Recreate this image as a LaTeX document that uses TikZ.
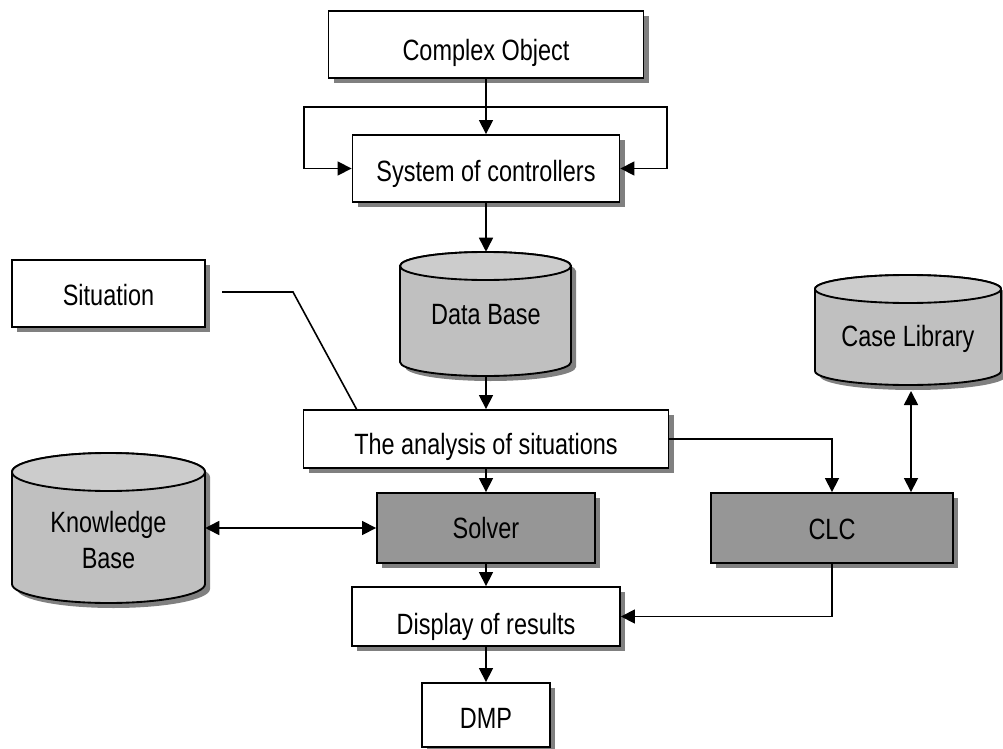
\documentclass[tikz,border=0pt]{standalone}
\usepackage{fontspec}
\setmainfont{Liberation Sans}[FakeStretch=0.8]
\usetikzlibrary{arrows.meta,shadows}
\definecolor{shadowc}{HTML}{808080}
\definecolor{darkbox}{HTML}{969696}
\definecolor{cylbody}{HTML}{C0C0C0}
\definecolor{cyltop}{HTML}{CCCCCC}
% cylinder: left, top, right, bottom, ry (all in px)
\newcommand\mycyl[5]{%
  \pgfmathsetmacro\cylcx{(#1+#3)/2}%
  \pgfmathsetmacro\cylrx{(#3-#1)/2*0.75}%
  \pgfmathsetmacro\cylry{#5*0.75}%
  \fill[shadowc] (#1+5,#2+#5+5) -- (#1+5,#4-#5+5)
    arc[start angle=180,end angle=360,x radius=\cylrx pt,y radius=\cylry pt]
    -- (#3+5,#2+#5+5)
    arc[start angle=0,end angle=180,x radius=\cylrx pt,y radius=\cylry pt] -- cycle;
  \draw[cylline,fill=cylbody] (#1,#2+#5) -- (#1,#4-#5)
    arc[start angle=180,end angle=360,x radius=\cylrx pt,y radius=\cylry pt]
    -- (#3,#2+#5)
    arc[start angle=0,end angle=180,x radius=\cylrx pt,y radius=\cylry pt] -- cycle;
  \draw[cylline,fill=cyltop] (\cylcx,#2+#5) ellipse[x radius=\cylrx pt,y radius=\cylry pt];
}
\begin{document}
\begin{tikzpicture}[x=0.75pt,y=-0.75pt,
  >={Triangle[length=10.5pt,width=10.5pt]},
  lbl/.style={font=\fontsize{22pt}{27pt}\selectfont},
  cylline/.style={line width=1.4pt},
  box/.style={lbl,draw,line width=1.4pt,fill=white,inner sep=0pt,text depth=0pt,
    drop shadow={shadow xshift=3.75pt,shadow yshift=-3.75pt,fill=shadowc,opacity=1}},
  dark/.style={box,fill=darkbox},
  area/.style={inner sep=0pt,draw=none},
  conn/.style={line width=1.2pt}
]
\useasboundingbox (0,0) rectangle (1003,749);

% cylinders
\mycyl{400}{252}{571}{376}{14}
\mycyl{815}{275}{1001}{385}{14}
\mycyl{12}{453}{205}{603}{19}
\node[area,minimum width=171*0.75pt,minimum height=124*0.75pt] (db) at (486,314) {};
\node[area,minimum width=186*0.75pt,minimum height=110*0.75pt] (cl) at (908,330) {};
\node[area,minimum width=193*0.75pt,minimum height=150*0.75pt] (kb) at (108.5,528) {};
\node[lbl,inner sep=0pt,text height=15.1pt,text depth=0pt] (dbt) at (486,314.5) {Data Base};
\node[lbl,inner sep=0pt,text height=15.1pt,text depth=0pt] (clt) at (908,336) {Case Library};
\node[lbl,inner sep=0pt,align=center] (kbt) at (108.5,540) {Knowledge\\Base};

% boxes
\node[box,minimum width=315*0.75pt,minimum height=67*0.75pt,text height=23.4pt] (co) at (486,44.5) {Complex Object};
\node[box,minimum width=267*0.75pt,minimum height=67*0.75pt,text height=18.9pt] (sys) at (486,168.5) {System of controllers};
\node[box,minimum width=193*0.75pt,minimum height=67*0.75pt,text height=17.4pt] (sit) at (108.5,293.5) {Situation};
\node[box,minimum width=365*0.75pt,minimum height=58*0.75pt,text height=22.6pt] (ana) at (486,439) {The analysis of situations};
\node[dark,minimum width=218*0.75pt,minimum height=70*0.75pt,text height=15.9pt] (solver) at (486,528) {Solver};
\node[dark,minimum width=242*0.75pt,minimum height=70*0.75pt,text height=16.6pt] (clc) at (832,528) {CLC};
\node[box,minimum width=268*0.75pt,minimum height=59*0.75pt,text height=26.4pt] (disp) at (486,616.5) {Display of results};
\node[box,minimum width=128*0.75pt,minimum height=64*0.75pt,text height=20.4pt] (dmp) at (486,715) {DMP};

% helper coordinates
\coordinate (lpL) at (304,107);
\coordinate (lpR) at (667,107);
\coordinate (s1) at (222,292);
\coordinate (s2) at (293,292);
\coordinate (s3) at (357,410);
\coordinate (c1) at (911,391);

% connectors
\draw[conn,->] (co.south) -- (sys.north);
\draw[conn,<->] (sys.west) -| (lpL) -- (lpR) |- (sys.east);
\draw[conn,->] (sys.south) -- (db.north);
\draw[conn,->] (db.south) -- (ana.north);
\draw[conn] (s1) -- (s2) -- (s3);
\draw[conn,->] (ana.south) -- (solver.north);
\draw[conn,->] (ana.east) -| (clc.north);
\draw[conn,<->] (c1 |- clc.north) -- (c1);
\draw[conn,<->] (kb.east) -- (solver.west);
\draw[conn,->] (solver.south) -- (disp.north);
\draw[conn,->] (clc.south) |- (disp.east);
\draw[conn,->] (disp.south) -- (dmp.north);
\end{tikzpicture}
\end{document}
